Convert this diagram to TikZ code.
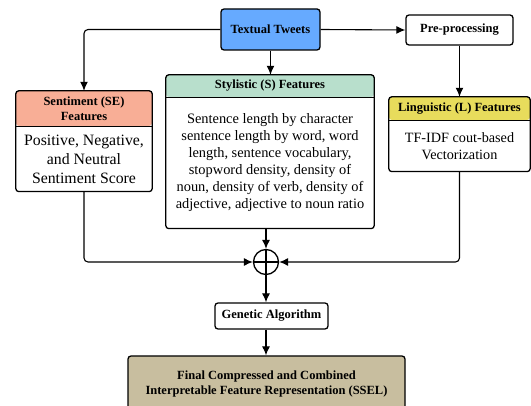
\documentclass[tikz,border=0pt]{standalone}
\usepackage{fontspec}
\setmainfont{Liberation Serif}
\usepackage{xcolor}
\usepackage{tikz}
\usetikzlibrary{positioning,arrows.meta}
\definecolor{tweetblue}{HTML}{66AAFF}
\definecolor{salmon}{HTML}{F8AE96}
\definecolor{mint}{HTML}{B8DFCC}
\definecolor{lemon}{HTML}{E8DC5C}
\definecolor{khaki}{HTML}{C8BE9F}

\begin{document}
\begin{tikzpicture}[x=1pt,y=-1pt, every node/.style={align=center,inner sep=0pt}, hdr/.style={font=\fontsize{12.5}{15.5}\selectfont\bfseries}, box/.style={draw,line width=1.3pt,rounded corners=3pt}, head/.style={hdr,rounded corners=3pt}, flow/.style={-{Latex[length=9pt,width=8pt]},line width=1.1pt}]
\useasboundingbox (0,0) rectangle (531,406);
\node[box,hdr,fill=tweetblue,minimum width=99,minimum height=41] (tweets) at (270.5,29.5) {Textual Tweets};
\node[box,hdr,minimum width=107,minimum height=30] (pre) at (459.5,30) {Pre-processing};
\node[head,fill=salmon,minimum width=136,minimum height=35] (sehead) at (84,108.5) {Sentiment (SE)\\Features};
\node[minimum width=136,minimum height=65,font=\fontsize{15.8}{19}\selectfont,below=0pt of sehead] (sebody) {Positive, Negative,\\and Neutral\\Sentiment Score};
\node[head,fill=mint,minimum width=208,minimum height=22] (sthead) at (270,86) {Stylistic (S) Features};
\node[minimum width=208,minimum height=131,font=\fontsize{14.4}{17}\selectfont,below=0pt of sthead] (stbody) {Sentence length by character\\sentence length by word, word\\length, sentence vocabulary,\\stopword density, density of\\noun, density of verb, density of\\adjective, adjective to noun ratio};
\node[head,fill=lemon,minimum width=141,minimum height=23] (lghead) at (459.5,108.5) {Linguistic (L) Features};
\node[minimum width=141,minimum height=51,font=\fontsize{14.2}{17.3}\selectfont,below=0pt of lghead] (lgbody) {TF-IDF cout-based\\Vectorization};
\draw[box] (sehead.north west) rectangle (sebody.south east); \draw[line width=1.1pt] (sehead.south west) -- (sehead.south east);
\draw[box] (sthead.north west) rectangle (stbody.south east); \draw[line width=1.1pt] (sthead.south west) -- (sthead.south east);
\draw[box] (lghead.north west) rectangle (lgbody.south east); \draw[line width=1.1pt] (lghead.south west) -- (lghead.south east);
\node[circle,draw,line width=1.3pt,minimum size=25] (sum) at (266,262) {};
\draw[line width=1.3pt] (sum.north) -- (sum.south) (sum.west) -- (sum.east);
\node[box,hdr,minimum width=113,minimum height=26] (ga) at (271.5,316) {Genetic Algorithm};
\node[box,hdr,fill=khaki,minimum width=277,minimum height=56] (final) at (266.5,384) {Final Compressed and Combined\\Interpretable Feature Representation (SSEL)};
\draw[flow,rounded corners=4pt] (tweets.west) -| (sehead.north);
\draw[flow] (tweets.south) -- (tweets.south |- sthead.north); \draw[flow] (tweets.east) -- (pre.west); \draw[flow] (pre.south) -- (lghead.north);
\draw[flow] (sum.north |- stbody.south) -- (sum.north);
\draw[flow,rounded corners=4pt] (sebody.south) |- (sum.west); \draw[flow,rounded corners=4pt] (lgbody.south) |- (sum.east);
\draw[flow] (sum.south) -- (sum.south |- ga.north); \draw[flow] (sum.south |- ga.south) -- (sum.south |- final.north);
\end{tikzpicture}
\end{document}
